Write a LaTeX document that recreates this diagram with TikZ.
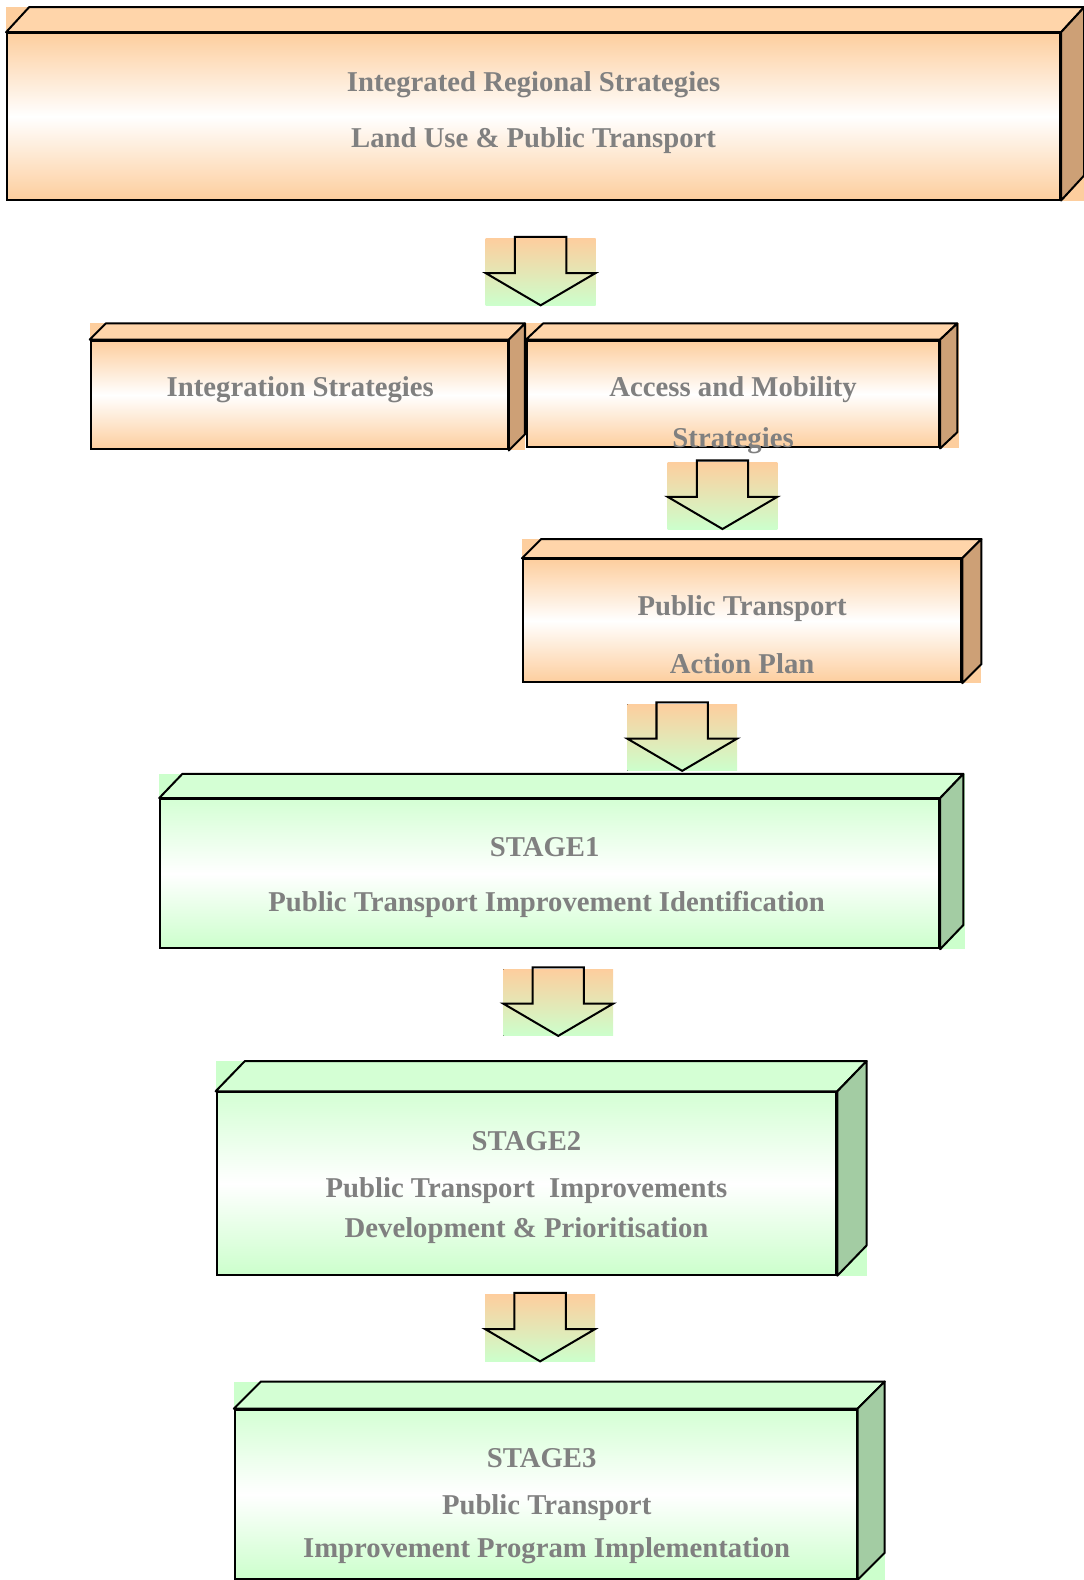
\documentclass[tikz,border=0pt]{standalone}
\usepackage{fontspec}
\setmainfont{Liberation Serif}
\usetikzlibrary{calc,positioning,backgrounds}

\definecolor{peach}{RGB}{253,206,158}
\definecolor{peachtop}{RGB}{255,213,170}
\definecolor{tan}{RGB}{205,160,118}
\definecolor{mint}{RGB}{204,255,204}
\definecolor{minttop}{RGB}{212,255,212}
\definecolor{sage}{RGB}{163,204,163}
\definecolor{inkgray}{RGB}{128,128,128}

\begin{document}
\begin{tikzpicture}[x=1pt, y=-1pt,
                    front/.style    ={rectangle, draw=black, line width=2pt, inner sep=0},
                    warm/.style     ={front, top color=peach, bottom color=peach, middle color=white},
                    cool/.style     ={front, top color=minttop, bottom color=mint, middle color=white},
                    warmtop/.style  ={draw=black, line width=2pt, line join=round, fill=peachtop},
                    warmside/.style ={draw=black, line width=2pt, line join=round, fill=tan},
                    cooltop/.style  ={draw=black, line width=2pt, line join=round, fill=minttop},
                    coolside/.style ={draw=black, line width=2pt, line join=round, fill=sage},
                    boxtext/.style  ={text=inkgray, font=\fontsize{28.5}{34}\selectfont\bfseries, inner sep=0},
                    downarrow/.pic  ={
                      \fill[top color=peach, bottom color=mint] (-54.5,2) rectangle (54.5,68);
                      \draw[line width=2pt, line join=miter]
                        (-25.5,0) -- (-25.5,36) -- (-54.5,36) -- (0,68) -- (54.5,36) -- (25.5,36) -- (25.5,0) -- cycle;
                    }]

      \useasboundingbox (0,0) rectangle (1075,1568);

      % top block
      \node[warm, minimum width=1045, minimum height=165] at(529.5, 115.5) (regional) {};
      \draw[warmtop]  (regional.north west) -- ++(23,-25) -- ($(regional.north east)+(23,-25)$) -- (regional.north east) -- cycle;
      \draw[warmside] (regional.north east) -- ++(23,-25) -- ($(regional.south east)+(23,-25)$) -- (regional.south east) -- cycle;
      \node[boxtext] at($(regional)+(0,-31.5)$) (regtitle) {Integrated Regional Strategies};
      \node[boxtext] at($(regional)+(0, 24.5)$) (regsub)   {Land Use \& Public Transport};

      \pic at(536.5, 235) {downarrow};

      % strategy blocks
      \node[warm, minimum width=414, minimum height=108] at(297, 392) (integ) {};
      \draw[warmtop]  (integ.north west) -- ++(16,-16) -- ($(integ.north east)+(16,-16)$) -- (integ.north east) -- cycle;
      \draw[warmside] (integ.north east) -- ++(16,-16) -- ($(integ.south east)+(16,-16)$) -- (integ.south east) -- cycle;
      \node[boxtext] at($(integ)+(1,-5)$) (integtitle) {Integration Strategies};

      \node[warm, minimum width=409, minimum height=106] at(727.5, 391) (access) {};
      \draw[warmtop]  (access.north west) -- ++(17,-16) -- ($(access.north east)+(17,-16)$) -- (access.north east) -- cycle;
      \draw[warmside] (access.north east) -- ++(17,-16) -- ($(access.south east)+(17,-16)$) -- (access.south east) -- cycle;
      \node[boxtext] at($(access)+(0,-4)$) (accesstitle) {Access and Mobility};
      \node[boxtext] at($(access)+(0,46)$) (accesssub)   {Strategies};

      \pic at(717, 457) {downarrow};

      % action plan
      \node[warm, minimum width=435, minimum height=122] at(736.5, 616) (action) {};
      \draw[warmtop]  (action.north west) -- ++(19,-19) -- ($(action.north east)+(19,-19)$) -- (action.north east) -- cycle;
      \draw[warmside] (action.north east) -- ++(19,-19) -- ($(action.south east)+(19,-19)$) -- (action.south east) -- cycle;
      \node[boxtext] at($(action)+(0,-12)$) (actiontitle) {Public Transport};
      \node[boxtext] at($(action)+(0, 43)$) (actionsub)   {Action Plan};

      \pic at(677, 697) {downarrow};

      % stages
      \node[cool, minimum width=773, minimum height=148] at(545.5, 867) (stagea) {};
      \draw[cooltop]  (stagea.north west) -- ++(23,-24) -- ($(stagea.north east)+(23,-24)$) -- (stagea.north east) -- cycle;
      \draw[coolside] (stagea.north east) -- ++(23,-24) -- ($(stagea.south east)+(23,-24)$) -- (stagea.south east) -- cycle;
      \node[boxtext] at($(stagea)+(-5,-26)$) (stageatitle) {STAGE1};
      \node[boxtext] at($(stagea)+(-3, 31)$) (stageasub)   {Public Transport Improvement Identification};

      \pic at(554, 960) {downarrow};

      \node[cool, minimum width=615, minimum height=181] at(522.5, 1174.5) (stageb) {};
      \draw[cooltop]  (stageb.north west) -- ++(29,-30) -- ($(stageb.north east)+(29,-30)$) -- (stageb.north east) -- cycle;
      \draw[coolside] (stageb.north east) -- ++(29,-30) -- ($(stageb.south east)+(29,-30)$) -- (stageb.south east) -- cycle;
      \node[boxtext] at($(stageb)+(0,-42.5)$) (stagebtitle) {STAGE2};
      \node[boxtext] at($(stageb)+(0,  7.5)$) (stagebsub)   {Public Transport\ \ Improvements};
      \node[boxtext] at($(stageb)+(0, 46.5)$) (stagebsubb)  {Development \& Prioritisation};

      \pic at(536, 1283) {downarrow};

      \node[cool, minimum width=617, minimum height=168] at(541.5, 1483) (stagec) {};
      \draw[cooltop]  (stagec.north west) -- ++(27,-27) -- ($(stagec.north east)+(27,-27)$) -- (stagec.north east) -- cycle;
      \draw[coolside] (stagec.north east) -- ++(27,-27) -- ($(stagec.south east)+(27,-27)$) -- (stagec.south east) -- cycle;
      \node[boxtext] at($(stagec)+(-4,-36)$) (stagectitle) {STAGE3};
      \node[boxtext] at($(stagec)+(1, 13)$)  (stagecsub)   {Public Transport};
      \node[boxtext] at($(stagec)+(1, 56)$)  (stagecsubb)  {Improvement Program Implementation};

      % filled corners behind the blocks
      \begin{scope}[on background layer]
        \fill[peach] (regional.south west) rectangle ($(regional.north east)+(23,-25)$);
        \fill[peach] (integ.south west)    rectangle ($(integ.north east)+(16,-16)$);
        \fill[peach] (access.south west)   rectangle ($(access.north east)+(19,-16)$);
        \fill[peach] (action.south west)   rectangle ($(action.north east)+(19,-19)$);
        \fill[mint]  (stagea.south west)   rectangle ($(stagea.north east)+(25,-24)$);
        \fill[mint]  (stageb.south west)   rectangle ($(stageb.north east)+(29,-30)$);
        \fill[mint]  (stagec.south west)   rectangle ($(stagec.north east)+(27,-27)$);
      \end{scope}
    \end{tikzpicture}
\end{document}
